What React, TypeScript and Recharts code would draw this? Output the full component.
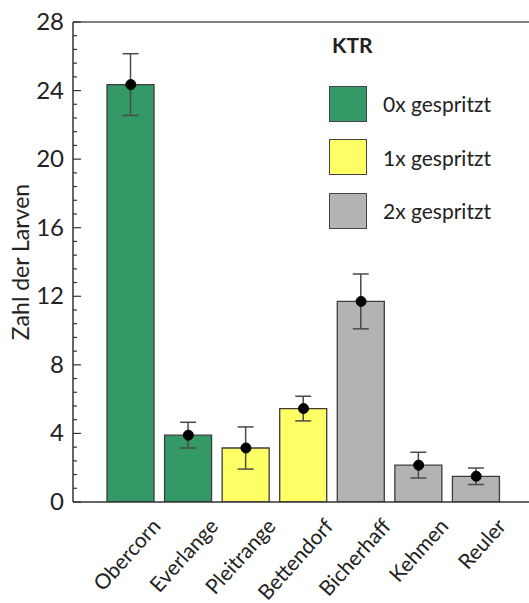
import React from 'react';
import { ComposedChart, Bar, Cell, XAxis, YAxis, ErrorBar, Line, ReferenceLine, Legend, Label } from 'recharts';

const categories = ['Obercorn', 'Everlange', 'Pleitrange', 'Bettendorf', 'Bicherhaff', 'Kehmen', 'Reuler'];
const means = [24.35, 3.9, 3.15, 5.45, 11.7, 2.15, 1.5];
const errors = [1.8, 0.75, 1.23, 0.72, 1.6, 0.75, 0.48];
const groups = [0, 0, 1, 1, 2, 2, 2];
const groupLabels = ['0x gespritzt', '1x gespritzt', '2x gespritzt'];
const groupColors = ['#339966', '#ffff66', '#b3b3b3'];
const legendTitle = 'KTR';
const yAxisTitle = 'Zahl der Larven';
const yTicks = Array.from({ length: 36 }, (_, i) => Math.round(i * 0.8 * 10) / 10);
const yMajor = [0, 4, 8, 12, 16, 20, 24, 28];

const data = categories.map((c, i) => ({ name: c, mean: means[i], err: errors[i], group: groups[i] }));

const FONT = 'Lato, "Open Sans", sans-serif';

const YTick = (props: any) => {
  const { x, y, payload } = props;
  const v = payload.value;
  const major = yMajor.includes(v);
  return (
    <g>
      <line x1={x} y1={y} x2={x + (major ? 8 : 4)} y2={y} stroke="#333" strokeWidth={1.2} />
      {major && (
        <text x={x - 9} y={y} dy={8} textAnchor="end" fontSize={24} fill="#222" fontFamily={FONT}>
          {v}
        </text>
      )}
    </g>
  );
};

const XTick = (props: any) => {
  const { x, y, payload } = props;
  return (
    <text
      x={0}
      y={0}
      transform={`translate(${x + 31},${y + 25}) rotate(-48)`}
      textAnchor="end"
      fontSize={21}
      fill="#222"
      fontFamily={FONT}
    >
      {payload.value}
    </text>
  );
};

const YTitle = (props: any) => {
  const vb = props.viewBox || { x: 0, y: 22, width: 73, height: 480 };
  const cx = vb.x + 29;
  const cy = vb.y + vb.height / 2;
  return (
    <text
      x={0}
      y={0}
      transform={`translate(${cx},${cy}) rotate(-90)`}
      textAnchor="middle"
      fontSize={23}
      fill="#222"
      fontFamily={FONT}
    >
      {yAxisTitle}
    </text>
  );
};

const LegendContent = () => (
  <div style={{ fontFamily: FONT, color: '#222' }}>
    <div style={{ fontWeight: 'bold', fontSize: 21, marginLeft: 3, height: 47, lineHeight: '30px' }}>{legendTitle}</div>
    {groupLabels.map((l, i) => (
      <div key={l} style={{ display: 'flex', alignItems: 'center', height: 53.5 }}>
        <div
          style={{
            width: 36,
            height: 34,
            background: groupColors[i],
            border: '1.2px solid #444',
            marginRight: 16,
          }}
        />
        <span style={{ fontSize: 21 }}>{l}</span>
      </div>
    ))}
  </div>
);

export default function App() {
  return (
    <div style={{ position: 'absolute', left: 0, top: 0, background: '#fff' }}>
      <ComposedChart width={529} height={603} data={data} margin={{ top: 22, right: 0, bottom: 0, left: 0 }}>
        <XAxis
          dataKey="name"
          height={101}
          tickLine={false}
          tickSize={0}
          tickMargin={0}
          tick={<XTick />}
          interval={0}
          padding={{ left: 29, right: 24 }}
          axisLine={{ stroke: '#333', strokeWidth: 1.5 }}
        />
        <YAxis
          width={73}
          domain={[0, 28]}
          ticks={yTicks}
          type="number"
          interval={0}
          tickLine={false}
          tickSize={0}
          tickMargin={0}
          tick={<YTick />}
          axisLine={{ stroke: '#333', strokeWidth: 1.5 }}
          allowDataOverflow
        >
          <Label content={<YTitle />} />
        </YAxis>
        <ReferenceLine y={28} stroke="#555" strokeWidth={1.5} ifOverflow="visible" />
        <Legend
          layout="vertical"
          align="center"
          verticalAlign="middle"
          content={<LegendContent />}
          wrapperStyle={{ position: 'absolute', left: 329, top: 30, width: 200 }}
        />
        <Bar dataKey="mean" barSize={47} stroke="#3c3c3c" strokeWidth={1.3} isAnimationActive={false}>
          {data.map((d, i) => (
            <Cell key={i} fill={groupColors[d.group]} />
          ))}
          <ErrorBar dataKey="err" width={8} stroke="#4a4a4a" strokeWidth={1.5} direction="y" />
        </Bar>
        <Line
          dataKey="mean"
          stroke="none"
          legendType="none"
          dot={{ r: 5, fill: '#000', stroke: '#000' }}
          activeDot={false}
          isAnimationActive={false}
        />
      </ComposedChart>
    </div>
  );
}
